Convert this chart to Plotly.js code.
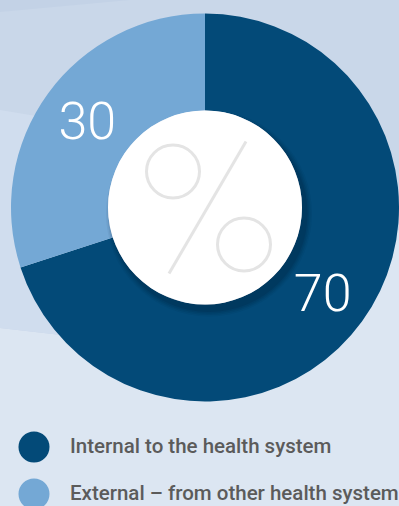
<!DOCTYPE html>
<html>
<head>
<meta charset="utf-8">
<script src="https://cdn.plot.ly/plotly-3.0.1.min.js"></script>
<style>
html,body{margin:0;padding:0;overflow:hidden;background:#dce6f2;}
#chart{width:399px;height:506px;}
</style>
</head>
<body>
<div id="chart"></div>
<script>
const labels = ['Internal to the health system', 'External \u2013 from other health system'];
const values = [70, 30];
const colors = ['#034a78', '#74a8d5'];

const W = 399, H = 506;
const px = v => v / W;
const py = v => 1 - v / H;

// pie geometry (pixels)
const cx = 205, cy = 207.5, R = 194;
const hr = 97;

const shapes = [];
// background decoration
shapes.push({type:'path', layer:'below', xref:'paper', yref:'paper',
  path:`M ${px(0)} ${py(0)} L ${px(399)} ${py(0)} L ${px(399)} ${py(230)} L ${px(70)} ${py(336)} L ${px(0)} ${py(328)} Z`,
  fillcolor:'#c9d7e9', line:{width:0}});
shapes.push({type:'path', layer:'below', xref:'paper', yref:'paper',
  path:`M ${px(0)} ${py(110)} L ${px(60)} ${py(120)} L ${px(60)} ${py(300)} L ${px(70)} ${py(336)} L ${px(0)} ${py(328)} Z`,
  fillcolor:'#d0ddee', line:{width:0}});
shapes.push({type:'path', layer:'below', xref:'paper', yref:'paper',
  path:`M ${px(0)} ${py(0)} L ${px(130)} ${py(0)} L ${px(0)} ${py(12)} Z`,
  fillcolor:'#c3d2e6', line:{width:0}});

// shadow of centre disc
[[12,0.05],[9,0.07],[6,0.09],[3,0.11]].forEach(([e,a])=>{
  shapes.push({type:'circle', xref:'paper', yref:'paper',
    x0:px(cx+4-hr-e/2), x1:px(cx+4+hr+e/2), y0:py(cy+6+hr+e/2), y1:py(cy+6-hr-e/2),
    fillcolor:`rgba(0,20,40,${a})`, line:{width:0}});
});
// white centre disc
shapes.push({type:'circle', xref:'paper', yref:'paper',
  x0:px(cx-hr), x1:px(cx+hr), y0:py(cy+hr), y1:py(cy-hr),
  fillcolor:'#ffffff', line:{width:0}});
// percent symbol
const pc = '#e4e4e4';
[[-32,-36],[39,37]].forEach(([dx,dy])=>{
  const r = 26.5;
  shapes.push({type:'circle', xref:'paper', yref:'paper',
    x0:px(cx+dx-r), x1:px(cx+dx+r), y0:py(cy+dy+r), y1:py(cy+dy-r),
    fillcolor:'rgba(0,0,0,0)', line:{color:pc, width:3}});
});
shapes.push({type:'line', xref:'paper', yref:'paper',
  x0:px(cx+41), y0:py(cy-66), x1:px(cx-36), y1:py(cy+66),
  line:{color:pc, width:3}});

// legend
const legY = [447, 494];
const annotations = [];
labels.forEach((lab,i)=>{
  shapes.push({type:'circle', xref:'paper', yref:'paper',
    x0:px(34-15.5), x1:px(34+15.5), y0:py(legY[i]+15.5), y1:py(legY[i]-15.5),
    fillcolor:colors[i], line:{width:0}});
  annotations.push({xref:'paper', yref:'paper', x:px(68), y:py(legY[i]-1.5),
    xanchor:'left', yanchor:'middle', showarrow:false, text:lab,
    font:{family:'Roboto', size:20.5, color:'#5b5b5b', weight:500}});
});

const trace = {
  type:'pie', values:values, labels:labels,
  marker:{colors:colors, line:{width:0}},
  hole:0.5, sort:false, direction:'clockwise', rotation:0,
  textinfo:'value', textposition:'inside', insidetextorientation:'horizontal',
  textfont:{family:'Roboto', size:52, color:'#ffffff', weight:300},
  hoverinfo:'none',
  domain:{x:[(cx-R)/W, Math.min(1,(cx+R)/W)], y:[1-(cy+R)/H, 1-(cy-R)/H]}
};

Plotly.newPlot('chart', [trace], {
  width:W, height:H,
  margin:{l:0,r:0,t:0,b:0,pad:0},
  paper_bgcolor:'#dce6f2', plot_bgcolor:'#dce6f2',
  showlegend:false,
  shapes:shapes, annotations:annotations
}, {displayModeBar:false, staticPlot:true});
</script>
</body>
</html>
